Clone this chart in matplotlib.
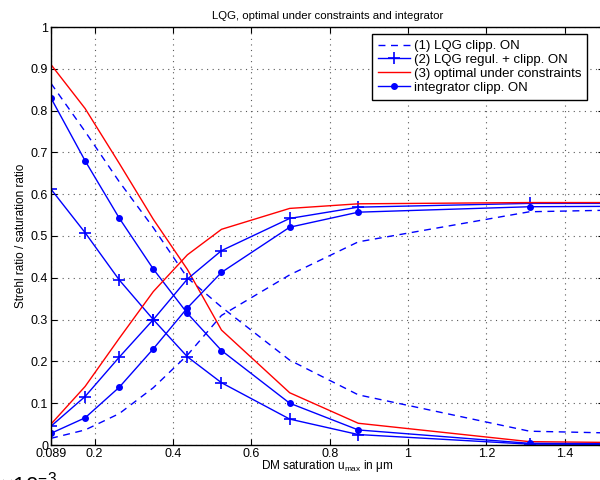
import numpy as np
import matplotlib
matplotlib.use("Agg")
import matplotlib.pyplot as plt

plt.rcParams['font.family'] = ['Liberation Sans', 'DejaVu Sans']
plt.rcParams['mathtext.fontset'] = 'custom'
plt.rcParams['mathtext.rm'] = 'Liberation Sans'
plt.rcParams['mathtext.it'] = 'Liberation Sans:italic'

# DM saturation values (um); last point lies past the visible range
umax = [0.089, 0.176, 0.263, 0.350, 0.437, 0.524, 0.698, 0.873, 1.310, 1.746]

# (1) LQG clipp. ON (dashed)
lqg_clip_strehl = [0.865, 0.75, 0.63, 0.52, 0.40, 0.33, 0.203, 0.12, 0.033, 0.024]
lqg_clip_sat = [0.016, 0.036, 0.075, 0.137, 0.215, 0.31, 0.407, 0.486, 0.558, 0.566]

# (2) LQG regul. + clipp. ON (crosses)
lqg_reg_strehl = [0.612, 0.508, 0.395, 0.30, 0.211, 0.149, 0.062, 0.025, 0.002, 0.001]
lqg_reg_sat = [0.045, 0.116, 0.21, 0.30, 0.397, 0.465, 0.542, 0.569, 0.578, 0.578]

# (3) optimal under constraints
opt_strehl = [0.91, 0.805, 0.674, 0.54, 0.42, 0.275, 0.125, 0.052, 0.008, 0.004]
opt_sat = [0.05, 0.14, 0.255, 0.367, 0.455, 0.516, 0.566, 0.577, 0.58, 0.58]

# integrator clipp. ON (dots)
integ_strehl = [0.83, 0.68, 0.543, 0.421, 0.315, 0.226, 0.10, 0.036, 0.004, 0.002]
integ_sat = [0.028, 0.065, 0.138, 0.23, 0.328, 0.413, 0.521, 0.557, 0.570, 0.572]

xticks = [0.089, 0.2, 0.4, 0.6, 0.8, 1, 1.2, 1.4]
xticklabels = ['0.089', '0.2', '0.4', '0.6', '0.8', '1', '1.2', '1.4']
yticks = np.round(np.arange(0, 1.01, 0.1), 1)

fig = plt.figure(figsize=(6, 4.8), dpi=100)
ax = fig.add_axes([51 / 600, 35 / 480, 553 / 600, 418 / 480])

blue = (0, 0, 1)
red = (1, 0, 0)
lw = 1.0

ax.plot(umax, lqg_clip_strehl, '--', color=blue, lw=lw, dashes=(5, 4),
        label='(1) LQG clipp. ON')
ax.plot(umax, lqg_reg_strehl, '-', color=blue, lw=lw, marker='+', ms=9,
        mew=1.2, label='(2) LQG regul. + clipp. ON')
ax.plot(umax, opt_strehl, '-', color=red, lw=lw,
        label='(3) optimal under constraints')
ax.plot(umax, integ_strehl, '-', color=blue, lw=lw, marker='o', ms=4,
        label='integrator clipp. ON')

ax.plot(umax, lqg_clip_sat, '--', color=blue, lw=lw, dashes=(5, 4))
ax.plot(umax, lqg_reg_sat, '-', color=blue, lw=lw, marker='+', ms=9, mew=1.2)
ax.plot(umax, opt_sat, '-', color=red, lw=lw)
ax.plot(umax, integ_sat, '-', color=blue, lw=lw, marker='o', ms=4)

ax.set_xlim(0.089, 1.5)
ax.set_ylim(0, 1)
ax.set_xticks(xticks)
ax.set_xticklabels(xticklabels)
ax.set_yticks(yticks)
ax.set_yticklabels([f'{v:g}' for v in yticks])
ax.tick_params(direction='in', top=True, right=True, labelsize=9,
               length=4, width=0.8, pad=2)
for s in ax.spines.values():
    s.set_linewidth(1.0)
ax.grid(True, linestyle=(0, (1, 4)), color='0.35', lw=0.8)

ax.set_title('LQG, optimal under constraints and integrator', fontsize=8.2,
             pad=6)
ax.set_xlabel(r'DM saturation u$_{\mathrm{max}}$ in $\mathrm{\mu}$m',
              fontsize=8.5, labelpad=-1)
ax.set_ylabel('Strehl ratio / saturation ratio', fontsize=8.5, labelpad=3)

leg = ax.legend(loc='upper left', bbox_to_anchor=(372 / 600, 1 - 34 / 480),
                bbox_transform=fig.transFigure, fontsize=9.5, frameon=True,
                fancybox=False, edgecolor='black', framealpha=1,
                borderpad=0.45, labelspacing=0.12, handlelength=2.4,
                handletextpad=0.3, borderaxespad=0)
leg.get_frame().set_linewidth(1.0)

# multiplier text sits mostly below the figure edge, as in the source
fig.text(0 / 600, 1 - 472 / 480, r'$\times\mathregular{10^{-3}}$', va='top',
         ha='left', fontsize=16)

fig.savefig('out.png', dpi=100)
